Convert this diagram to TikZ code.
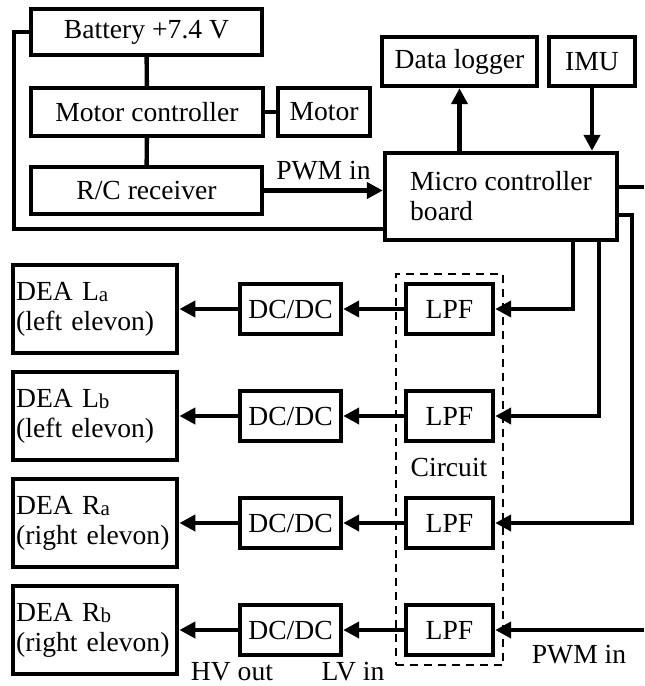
\documentclass[tikz,border=0pt]{standalone}
\usepackage{fontspec}
\setmainfont{Liberation Serif}
\usetikzlibrary{arrows.meta,positioning,fit}

\newcommand{\dsub}[1]{\raisebox{-0.5pt}{\fontsize{10.5}{10.5}\selectfont #1}}

\begin{document}
\begin{tikzpicture}[
        x=0.5pt, y=-0.5pt,
        every node/.style={font=\fontsize{13.8}{15}\selectfont},
        blk/.style={rectangle, draw, line width=2.2pt, inner sep=0pt},
        dea/.style={blk, anchor=west, text width=79pt, inner xsep=1.5pt, minimum height=44pt, align=left},
        conv/.style={blk, minimum width=50.5pt, minimum height=25pt},
        lpf/.style={blk, minimum width=43.5pt, minimum height=25pt},
        circuit/.style={rectangle, draw, dashed, dash pattern=on 4pt off 3pt, line width=1pt, inner sep=4pt},
        line/.style={line width=2.2pt},
        arr/.style={line, -{Triangle[length=8pt,width=8pt]}}
    ]
        \useasboundingbox (0,0) rectangle (644,686);

        % Nodes
        \node[blk, minimum width=115.5pt, minimum height=23pt] (batt) at (146.5,32) {Battery +7.4 V};
        \node[blk, minimum width=116pt, minimum height=24pt] (mc) at (147,112) {Motor controller};
        \node[blk, minimum width=46pt, minimum height=24pt] (motor) at (324,112) {Motor};
        \node[blk, minimum width=115.5pt, minimum height=23.5pt] (rc) at (146.5,190.5) {R/C receiver};

        \node[blk, minimum width=77.5pt, minimum height=24.5pt] (logger) at (459.5,61.5) {Data logger};
        \node[blk, minimum width=43pt, minimum height=24.5pt] (imu) at (592,61.5) {IMU};
        \node[blk, minimum width=116pt, minimum height=43.5pt, align=left] (micro) at (501,196.5) {Micro controller\\board};

        \node[dea] (deaLa) at (11,309) {DEA L\dsub{a}\\(left elevon)};
        \node[dea] (deaLb) at (11,416) {DEA L\dsub{b}\\(left elevon)};
        \node[dea] (deaRa) at (11,523) {DEA R\dsub{a}\\(right elevon)};
        \node[dea] (deaRb) at (11,630) {DEA R\dsub{b}\\(right elevon)};

        \node[conv] (dcLa) at (290.5,309) {DC/DC};
        \node[conv] (dcLb) at (290.5,416) {DC/DC};
        \node[conv] (dcRa) at (290.5,523) {DC/DC};
        \node[conv] (dcRb) at (290.5,630) {DC/DC};

        \node[lpf] (lpfLa) at (449.5,309) {LPF};
        \node[lpf] (lpfLb) at (449.5,416) {LPF};
        \node[lpf] (lpfRa) at (449.5,523) {LPF};
        \node[lpf] (lpfRb) at (449.5,630) {LPF};

        \node[circuit, fit=(lpfLa)(lpfRb)] (circ) {};
        \node (circlabel) at (449,467) {Circuit};

        \node (hvout) at (232,672) {HV out};
        \node (lvin) at (353,672) {LV in};
        \node (pwmB) at (579,655) {PWM in};

        % free line ends
        \coordinate (loopL) at (14,229);
        \coordinate (r1) at (644,187);
        \coordinate (r2) at (632,215);
        \coordinate (r3) at (644,630);
        \coordinate (b1) at (573,0);
        \coordinate (b2) at (599,0);

        % Connections
        \draw[line] (batt) -- (mc);
        \draw[line] (mc) -- (rc);
        \draw[line] (mc) -- (motor);
        \draw[line] (batt.west) -| (loopL) -- (loopL -| micro.west);

        \draw[arr] (rc.east) -- (rc.east -| micro.west) node[midway, above=1pt] (pwmA) {PWM in};
        \draw[arr] (micro.north -| logger.south) -- (logger.south);
        \draw[arr] (imu.south) -- (imu.south |- micro.north);

        \draw[line] (micro.east |- r1) -- (r1);
        \draw[arr] (micro.south -| b1) |- (lpfLa.east);
        \draw[arr] (micro.south -| b2) |- (lpfLb.east);
        \draw[arr] (micro.east |- r2) -- (r2) |- (lpfRa.east);
        \draw[arr] (r3) -- (lpfRb.east);

        \draw[arr] (lpfLa) -- (dcLa);
        \draw[arr] (lpfLb) -- (dcLb);
        \draw[arr] (lpfRa) -- (dcRa);
        \draw[arr] (lpfRb) -- (dcRb);

        \draw[arr] (dcLa) -- (deaLa);
        \draw[arr] (dcLb) -- (deaLb);
        \draw[arr] (dcRa) -- (deaRa);
        \draw[arr] (dcRb) -- (deaRb);

    \end{tikzpicture}
\end{document}
